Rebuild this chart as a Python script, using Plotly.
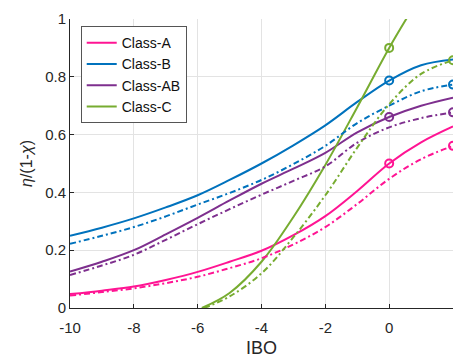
import plotly.graph_objects as go

# ---- data ----
ibo = [-10, -9, -8, -7, -6, -5, -4, -3, -2, -1, 0, 1, 2]

classA_solid = [0.048, 0.060, 0.074, 0.097, 0.125, 0.160, 0.198, 0.252, 0.318, 0.405, 0.500, 0.573, 0.628]
classA_dash  = [0.043, 0.055, 0.068, 0.086, 0.108, 0.138, 0.172, 0.220, 0.280, 0.360, 0.447, 0.515, 0.561]

classB_solid = [0.250, 0.278, 0.310, 0.348, 0.390, 0.443, 0.500, 0.563, 0.632, 0.713, 0.787, 0.840, 0.860]
classB_dash  = [0.222, 0.250, 0.280, 0.317, 0.358, 0.398, 0.443, 0.498, 0.561, 0.640, 0.700, 0.750, 0.773]

classAB_solid = [0.126, 0.160, 0.200, 0.255, 0.312, 0.372, 0.430, 0.482, 0.537, 0.608, 0.661, 0.700, 0.728]
classAB_dash  = [0.114, 0.147, 0.184, 0.236, 0.290, 0.342, 0.392, 0.440, 0.490, 0.572, 0.625, 0.657, 0.677]

ibo_c_solid = [-5.87, -5, -4, -3, -2, -1, 0, 0.7]
classC_solid = [0.0, 0.052, 0.160, 0.315, 0.495, 0.695, 0.900, 1.030]
ibo_c_dash = [-5.8, -5, -4, -3, -2, -1, 0, 1, 2]
classC_dash = [0.0, 0.040, 0.120, 0.245, 0.390, 0.555, 0.705, 0.810, 0.857]

names = ["Class-A", "Class-B", "Class-AB", "Class-C"]
colors = ["#FF1493", "#0072BD", "#7E2F8E", "#77AC30"]

x_ticks = [-10, -8, -6, -4, -2, 0]
x_tick_text = ["-10", "-8", "-6", "-4", "-2", "0"]
y_ticks = [0, 0.2, 0.4, 0.6, 0.8, 1]
y_tick_text = ["0", "0.2", "0.4", "0.6", "0.8", "1"]

series = [
    (ibo, classA_solid, ibo, classA_dash),
    (ibo, classB_solid, ibo, classB_dash),
    (ibo, classAB_solid, ibo, classAB_dash),
    (ibo_c_solid, classC_solid, ibo_c_dash, classC_dash),
]

fig = go.Figure()
LW = 2
DASHDOT = "6px,3px,2px,3px"

for name, col, (xs, ys, xd, yd) in zip(names, colors, series):
    fig.add_trace(go.Scatter(x=xs, y=ys, mode="lines", name=name,
                             line=dict(color=col, width=LW, shape="spline", smoothing=1.0)))
for name, col, (xs, ys, xd, yd) in zip(names, colors, series):
    fig.add_trace(go.Scatter(x=xd, y=yd, mode="lines", showlegend=False,
                             line=dict(color=col, width=LW, dash=DASHDOT, shape="spline", smoothing=1.0)))
# open-circle markers: solid curves at IBO=0, dash-dot curves at IBO=2
for name, col, (xs, ys, xd, yd) in zip(names, colors, series):
    i0 = xs.index(0)
    fig.add_trace(go.Scatter(x=[xs[i0]], y=[ys[i0]], mode="markers", showlegend=False,
                             cliponaxis=False,
                             marker=dict(symbol="circle-open", size=8, color=col, line=dict(width=2, color=col))))
    fig.add_trace(go.Scatter(x=[xd[-1]], y=[yd[-1]], mode="markers", showlegend=False,
                             cliponaxis=False,
                             marker=dict(symbol="circle-open", size=8, color=col, line=dict(width=2, color=col))))

axis_col = "#262626"
fig.update_layout(
    width=453, height=358,
    margin=dict(l=70, r=0, t=19, b=50),
    paper_bgcolor="white", plot_bgcolor="white",
    font=dict(family="Liberation Sans, Arial, sans-serif", size=15, color=axis_col),
    legend=dict(x=0.028, y=0.975, xanchor="left", yanchor="top",
                bgcolor="white", bordercolor="#555555", borderwidth=1,
                font=dict(size=14, color="#111111"), tracegroupgap=0,
                itemwidth=30),
    xaxis=dict(range=[-10, 2], tickvals=x_ticks, ticktext=x_tick_text, ticks="inside", ticklen=4,
               tickcolor=axis_col, showline=True, linecolor=axis_col, linewidth=1,
               showgrid=True, gridcolor="#e3e3e3", gridwidth=1, zeroline=False,
               ticklabelstandoff=6,
               title=dict(text="IBO", font=dict(size=18), standoff=8)),
    yaxis=dict(range=[0, 1], tickvals=y_ticks, ticktext=y_tick_text, ticks="inside", ticklen=4,
               tickcolor=axis_col, showline=True, linecolor=axis_col, linewidth=1,
               showgrid=True, gridcolor="#e3e3e3", gridwidth=1, zeroline=False,
               title=dict(text="<i>η</i>/(1-<i>χ</i>)", font=dict(size=16), standoff=8)),
)

fig.write_html("out.html")
